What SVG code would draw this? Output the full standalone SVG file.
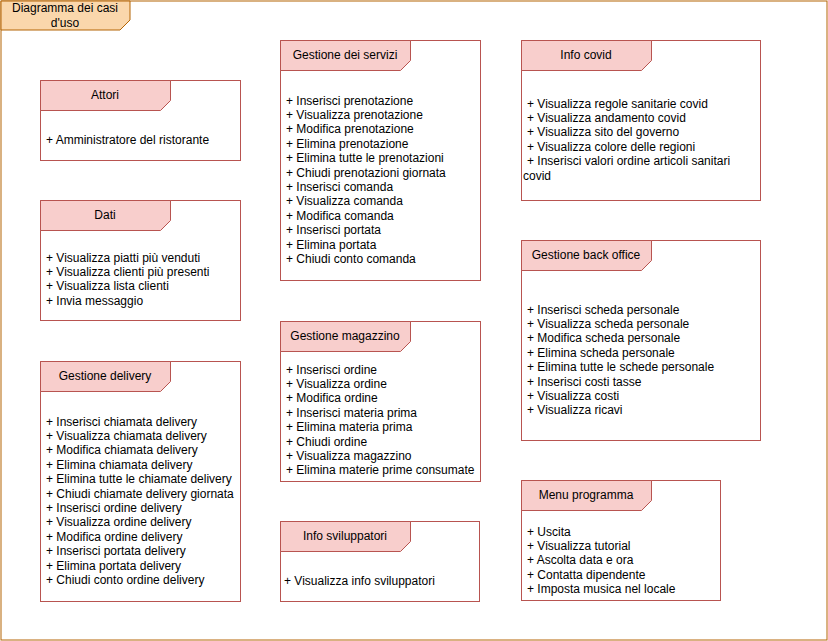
<svg xmlns="http://www.w3.org/2000/svg" width="828" height="641" viewBox="0 0 828 641">
<style>
.box{fill:#ffffff;stroke:#b85450;stroke-width:1}
.hdr{fill:#f8cecc;stroke:#b85450;stroke-width:1}
.t{font-family:"Liberation Sans",Arial,Helvetica,sans-serif;font-size:12px;fill:#000000}
.c{text-anchor:middle}
</style>
<rect width="828" height="641" fill="#ffffff"/>
<g id="frame">
<rect x="1" y="1" width="826" height="639" fill="none" stroke="#b46504" stroke-width="1"/>
<path d="M1 1 H130 V20 L120 30 H1 Z" fill="#fad7ac" stroke="#b46504" stroke-width="1"/>
<text class="t c" x="65" y="12">Diagramma dei casi</text>
<text class="t c" x="65" y="27">d'uso</text>
</g>
<g id="attori">
<rect class="box" x="40.5" y="80.5" width="200" height="80"/>
<path class="hdr" d="M40.5 80.5 H170.5 V100.5 L160.5 110.5 H40.5 Z"/>
<text class="t c" x="105" y="98.5">Attori</text>
<text class="t" x="46" y="143.5">+ Amministratore del ristorante</text>
</g>
<g id="dati">
<rect class="box" x="40.5" y="200.5" width="200" height="120"/>
<path class="hdr" d="M40.5 200.5 H170.5 V220.5 L160.5 230.5 H40.5 Z"/>
<text class="t c" x="105" y="218.5">Dati</text>
<text class="t" x="46" y="261.5"><tspan x="46">+ Visualizza piatti più venduti</tspan><tspan x="46" dy="14.4">+ Visualizza clienti più presenti</tspan><tspan x="46" dy="14.4">+ Visualizza lista clienti</tspan><tspan x="46" dy="14.4">+ Invia messaggio</tspan></text>
</g>
<g id="gestione-delivery">
<rect class="box" x="40.5" y="361.5" width="200" height="240"/>
<path class="hdr" d="M40.5 361.5 H170.5 V381.5 L160.5 391.5 H40.5 Z"/>
<text class="t c" x="105" y="379.5">Gestione delivery</text>
<text class="t" x="46" y="425.5"><tspan x="46">+ Inserisci chiamata delivery</tspan><tspan x="46" dy="14.4">+ Visualizza chiamata delivery</tspan><tspan x="46" dy="14.4">+ Modifica chiamata delivery</tspan><tspan x="46" dy="14.4">+ Elimina chiamata delivery</tspan><tspan x="46" dy="14.4">+ Elimina tutte le chiamate delivery</tspan><tspan x="46" dy="14.4">+ Chiudi chiamate delivery giornata</tspan><tspan x="46" dy="14.4">+ Inserisci ordine delivery</tspan><tspan x="46" dy="14.4">+ Visualizza ordine delivery</tspan><tspan x="46" dy="14.4">+ Modifica ordine delivery</tspan><tspan x="46" dy="14.4">+ Inserisci portata delivery</tspan><tspan x="46" dy="14.4">+ Elimina portata delivery</tspan><tspan x="46" dy="14.4">+ Chiudi conto ordine delivery</tspan></text>
</g>
<g id="gestione-servizi">
<rect class="box" x="280.5" y="40.5" width="200" height="240"/>
<path class="hdr" d="M280.5 40.5 H410.5 V60.5 L400.5 70.5 H280.5 Z"/>
<text class="t c" x="345" y="58.5">Gestione dei servizi</text>
<text class="t" x="286" y="104.5"><tspan x="286">+ Inserisci prenotazione</tspan><tspan x="286" dy="14.4">+ Visualizza prenotazione</tspan><tspan x="286" dy="14.4">+ Modifica prenotazione</tspan><tspan x="286" dy="14.4">+ Elimina prenotazione</tspan><tspan x="286" dy="14.4">+ Elimina tutte le prenotazioni</tspan><tspan x="286" dy="14.4">+ Chiudi prenotazioni giornata</tspan><tspan x="286" dy="14.4">+ Inserisci comanda</tspan><tspan x="286" dy="14.4">+ Visualizza comanda</tspan><tspan x="286" dy="14.4">+ Modifica comanda</tspan><tspan x="286" dy="14.4">+ Inserisci portata</tspan><tspan x="286" dy="14.4">+ Elimina portata</tspan><tspan x="286" dy="14.4">+ Chiudi conto comanda</tspan></text>
</g>
<g id="gestione-magazzino">
<rect class="box" x="280.5" y="321.5" width="200" height="160"/>
<path class="hdr" d="M280.5 321.5 H410.5 V341.5 L400.5 351.5 H280.5 Z"/>
<text class="t c" x="345" y="339.5">Gestione magazzino</text>
<text class="t" x="286" y="373.5"><tspan x="286">+ Inserisci ordine</tspan><tspan x="286" dy="14.4">+ Visualizza ordine</tspan><tspan x="286" dy="14.4">+ Modifica ordine</tspan><tspan x="286" dy="14.4">+ Inserisci materia prima</tspan><tspan x="286" dy="14.4">+ Elimina materia prima</tspan><tspan x="286" dy="14.4">+ Chiudi ordine</tspan><tspan x="286" dy="14.4">+ Visualizza magazzino</tspan><tspan x="286" dy="14.4">+ Elimina materie prime consumate</tspan></text>
</g>
<g id="info-sviluppatori">
<rect class="box" x="280.5" y="521.5" width="199" height="80"/>
<path class="hdr" d="M280.5 521.5 H410.5 V541.5 L400.5 551.5 H280.5 Z"/>
<text class="t c" x="345" y="539.5">Info sviluppatori</text>
<text class="t" x="284" y="584.5">+ Visualizza info sviluppatori</text>
</g>
<g id="info-covid">
<rect class="box" x="521.5" y="40.5" width="239" height="160"/>
<path class="hdr" d="M521.5 40.5 H651.5 V60.5 L641.5 70.5 H521.5 Z"/>
<text class="t c" x="586" y="58.5">Info covid</text>
<text class="t" x="527" y="107.5"><tspan x="527">+ Visualizza regole sanitarie covid</tspan><tspan x="527" dy="14.4">+ Visualizza andamento covid</tspan><tspan x="527" dy="14.4">+ Visualizza sito del governo</tspan><tspan x="527" dy="14.4">+ Visualizza colore delle regioni</tspan><tspan x="527" dy="14.4">+ Inserisci valori ordine articoli sanitari</tspan><tspan x="523" dy="14.4">covid</tspan></text>
</g>
<g id="gestione-back-office">
<rect class="box" x="521.5" y="240.5" width="239" height="200"/>
<path class="hdr" d="M521.5 240.5 H651.5 V260.5 L641.5 270.5 H521.5 Z"/>
<text class="t c" x="586" y="258.5">Gestione back office</text>
<text class="t" x="527" y="313.5"><tspan x="527">+ Inserisci scheda personale</tspan><tspan x="527" dy="14.4">+ Visualizza scheda personale</tspan><tspan x="527" dy="14.4">+ Modifica scheda personale</tspan><tspan x="527" dy="14.4">+ Elimina scheda personale</tspan><tspan x="527" dy="14.4">+ Elimina tutte le schede personale</tspan><tspan x="527" dy="14.4">+ Inserisci costi tasse</tspan><tspan x="527" dy="14.4">+ Visualizza costi</tspan><tspan x="527" dy="14.4">+ Visualizza ricavi</tspan></text>
</g>
<g id="menu-programma">
<rect class="box" x="521.5" y="480.5" width="199" height="120"/>
<path class="hdr" d="M521.5 480.5 H651.5 V500.5 L641.5 510.5 H521.5 Z"/>
<text class="t c" x="586" y="498.5">Menu programma</text>
<text class="t" x="527" y="535.5"><tspan x="527">+ Uscita</tspan><tspan x="527" dy="14.4">+ Visualizza tutorial</tspan><tspan x="527" dy="14.4">+ Ascolta data e ora</tspan><tspan x="527" dy="14.4">+ Contatta dipendente</tspan><tspan x="527" dy="14.4">+ Imposta musica nel locale</tspan></text>
</g>
<g id="connectors"/>
</svg>
